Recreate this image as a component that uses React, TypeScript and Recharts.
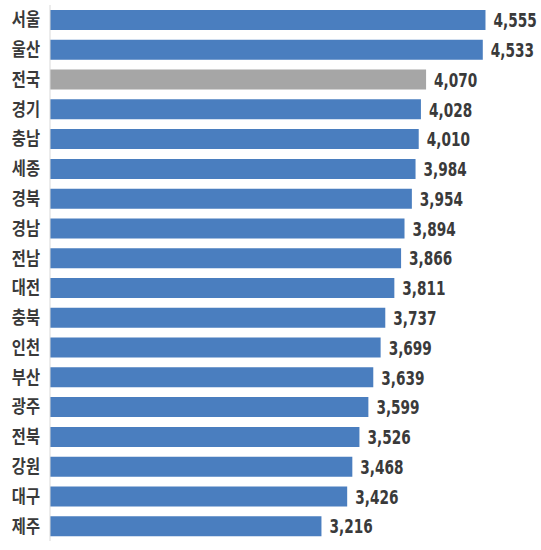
import React from 'react';
import { BarChart, Bar, XAxis, YAxis, Cell, LabelList } from 'recharts';

const regions = ['서울', '울산', '전국', '경기', '충남', '세종', '경북', '경남', '전남', '대전', '충북', '인천', '부산', '광주', '전북', '강원', '대구', '제주'];
const values = [4555, 4533, 4070, 4028, 4010, 3984, 3954, 3894, 3866, 3811, 3737, 3699, 3639, 3599, 3526, 3468, 3426, 3216];
const highlight = '전국';

const data = regions.map((r, i) => ({ region: r, value: values[i] }));

const fmt = (v: any) => Number(v).toLocaleString('en-US');

const ValueLabel = (props: any) => {
  const { x, y, width, height, value } = props;
  const tx = Number(x) + Number(width) + 8;
  const ty = Number(y) + Number(height) / 2;
  return (
    <text
      transform={`translate(${tx},${ty}) scale(0.76,1)`}
      x={0}
      y={0}
      dy="0.36em"
      fontSize={20}
      fontWeight={700}
      fill="#3a3a3a"
      fontFamily='"DejaVu Sans Condensed", "Roboto", sans-serif'
    >
      {fmt(value)}
    </text>
  );
};

const RegionTick = (props: any) => {
  const { x, y, payload } = props;
  return (
    <text
      transform={`translate(${Number(x)},${Number(y)}) scale(0.85,1)`}
      x={0}
      y={0}
      dy="0.36em"
      textAnchor="end"
      fontSize={18}
      fontWeight={700}
      fill="#3a3a3a"
      fontFamily='"Noto Sans CJK KR", sans-serif'
    >
      {payload.value}
    </text>
  );
};

export default function App() {
  return (
    <div style={{ position: 'absolute', left: 0, top: 0, background: '#fff' }}>
      <BarChart
        width={541}
        height={550}
        data={data}
        layout="vertical"
        margin={{ top: 5, right: 1, bottom: 9, left: 0 }}
        barCategoryGap={9.8}
      >
        <XAxis type="number" domain={[1000, 5000]} hide />
        <YAxis
          type="category"
          dataKey="region"
          width={50}
          axisLine={{ stroke: '#d9d9d9' }}
          tickLine={false}
          tickMargin={4}
          interval={0}
          tick={<RegionTick />}
        />
        <Bar dataKey="value" barSize={20} isAnimationActive={false}>
          {data.map((d) => (
            <Cell key={d.region} fill={d.region === highlight ? '#a6a6a6' : '#4a7ebf'} />
          ))}
          <LabelList dataKey="value" content={<ValueLabel />} />
        </Bar>
      </BarChart>
    </div>
  );
}
